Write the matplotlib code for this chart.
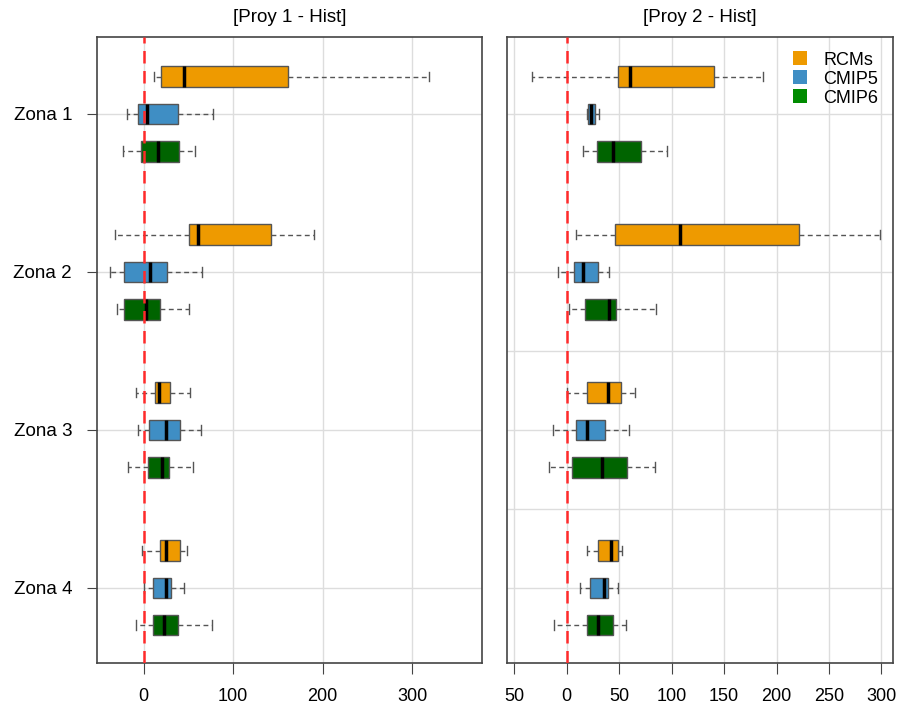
import matplotlib.pyplot as plt
from matplotlib.patches import Patch

# Zones and model groups
zones = ['Zona 1', 'Zona 2', 'Zona 3', 'Zona 4']
models = ['RCMs', 'CMIP5', 'CMIP6']
box_colors = ['#EE9A00', '#3F8EC4', '#006400']
legend_colors = ['#EE9A00', '#3F8EC4', '#008B00']

# Box statistics: (whisker low, q1, median, q3, whisker high)
# one row per zone, one entry per model (RCMs, CMIP5, CMIP6)
proy1_stats = [
    [(12, 20, 45, 161, 319), (-18, -6, 4, 38, 77), (-23, -3, 16, 40, 57)],
    [(-32, 51, 61, 142, 190), (-37, -22, 7, 26, 65), (-30, -22, 3, 18, 51)],
    [(-8, 13, 17, 30, 52), (-6, 6, 25, 41, 64), (-17, 5, 21, 28, 55)],
    [(-2, 18, 25, 41, 48), (0, 11, 25, 31, 45), (-8, 11, 23, 39, 76)],
]
proy2_stats = [
    [(-33, 49, 60, 140, 187), (19, 20, 23, 27, 31), (15, 29, 44, 71, 96)],
    [(9, 46, 108, 221, 299), (-8, 7, 15, 30, 40), (2, 17, 40, 47, 85)],
    [(0, 19, 39, 52, 65), (-13, 9, 19, 36, 59), (-17, 5, 34, 57, 84)],
    [(19, 30, 42, 49, 53), (13, 22, 35, 39, 49), (-12, 19, 30, 44, 56)],
]

titles = ['[Proy 1 - Hist]', '[Proy 2 - Hist]']
left_ticks = [0, 100, 200, 300]
right_ticks = [-50, 0, 50, 100, 150, 200, 250, 300]
right_ticklabels = ['50', '0', '50', '100', '150', '200', '250', '300']

plt.rcParams['font.family'] = ['Liberation Sans', 'DejaVu Sans']

fig = plt.figure(figsize=(8.97, 7.09), dpi=100)
ax1 = fig.add_axes([97 / 897, 1 - 663 / 709, 385 / 897, 626 / 709])
ax2 = fig.add_axes([507 / 897, 1 - 663 / 709, 386 / 897, 626 / 709])

spacing = 4.25
centers = [i * spacing for i in range(len(zones))]


def draw_panel(ax, stats, title, xlim):
    for j, model in enumerate(models):
        bstats = []
        pos = []
        for i, zone in enumerate(zones):
            lo, q1, med, q3, hi = stats[i][j]
            bstats.append(dict(whislo=lo, q1=q1, med=med, q3=q3, whishi=hi, fliers=[]))
            pos.append(centers[i] + (j - 1))
        ax.bxp(bstats, positions=pos, widths=0.56, orientation='horizontal',
               patch_artist=True, showfliers=False, capwidths=0.25,
               boxprops=dict(facecolor=box_colors[j], edgecolor='#555555', linewidth=1),
               whiskerprops=dict(color='#555555', linestyle=(0, (3.5, 2.5)), linewidth=1),
               capprops=dict(color='#555555', linewidth=1),
               medianprops=dict(color='black', linewidth=2.5),
               zorder=3)
    ax.axvline(0, color='#FF2A2A', linestyle=(0, (5, 3)), linewidth=1.8, zorder=4)
    ax.set_xlim(*xlim)
    ax.set_ylim(centers[-1] + 2.02, centers[0] - 2.07)
    ax.grid(True, color='#DDDDDD', linewidth=1)
    ax.set_axisbelow(True)
    ax.set_yticks(centers)
    ax.set_title(title, fontsize=13.5, pad=11)
    for s in ax.spines.values():
        s.set_color('#444444')
        s.set_linewidth(1.2)
    ax.tick_params(axis='x', length=8, pad=10, labelsize=13, color='#444444')
    ax.tick_params(axis='y', length=7, pad=11, labelsize=13.5, color='#444444')


draw_panel(ax1, proy1_stats, titles[0], (-52, 378))
ax1.set_xticks(left_ticks)
ax1.set_yticklabels(zones)

draw_panel(ax2, proy2_stats, titles[1], (-57, 311))
ax2.set_xticks(right_ticks)
ax2.set_xticklabels(right_ticklabels)
ax2.set_yticklabels([])
ax2.tick_params(axis='y', length=0)
# extra separators between zones in the right panel
for k in (1, 2):
    ax2.axhline((centers[k] + centers[k + 1]) / 2, color='#DDDDDD', linewidth=1, zorder=0)

handles = [Patch(facecolor=c, edgecolor='none', label=m) for m, c in zip(models, legend_colors)]
ax2.legend(handles=handles, loc='upper right', frameon=False, fontsize=13,
           handlelength=0.8, handleheight=0.8, handletextpad=0.9, labelspacing=0.1,
           borderaxespad=0.4)

plt.savefig('out.png', dpi=100)
